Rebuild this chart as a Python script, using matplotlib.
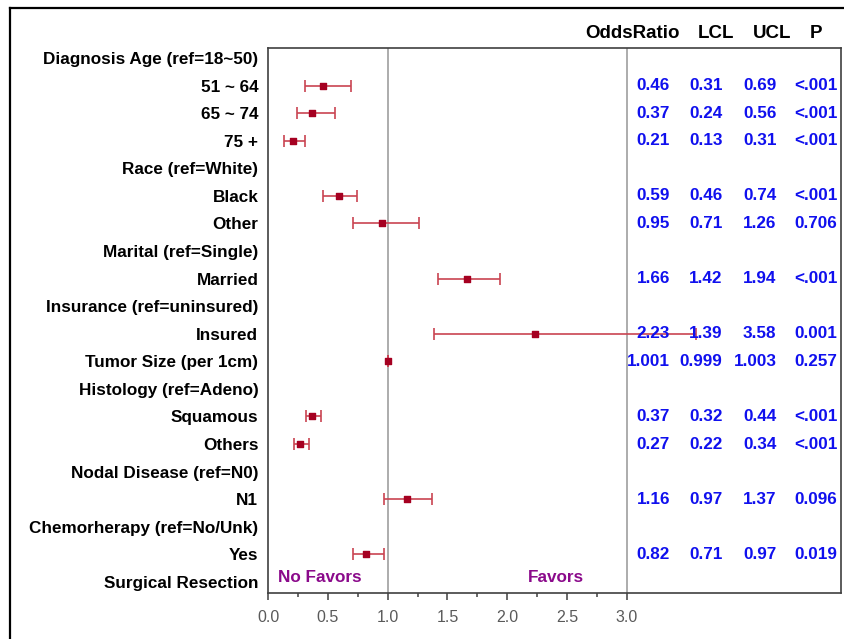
import matplotlib.pyplot as plt
import matplotlib.transforms as mtransforms
from matplotlib.lines import Line2D
import numpy as np

plt.rcParams['font.family'] = ['Liberation Sans', 'DejaVu Sans']

# rows of the forest plot, top to bottom ("" = group header, no estimate)
row_labels = [
    "Diagnosis Age (ref=18~50)", "51 ~ 64", "65 ~ 74", "75 +",
    "Race (ref=White)", "Black", "Other",
    "Marital (ref=Single)", "Married",
    "Insurance (ref=uninsured)", "Insured",
    "Tumor Size (per 1cm)",
    "Histology (ref=Adeno)", "Squamous", "Others",
    "Nodal Disease (ref=N0)", "N1",
    "Chemorherapy (ref=No/Unk)", "Yes",
    "Surgical Resection",
]
odds_txt = ["", "0.46", "0.37", "0.21", "", "0.59", "0.95", "", "1.66", "", "2.23",
            "1.001", "", "0.37", "0.27", "", "1.16", "", "0.82", ""]
lcl_txt = ["", "0.31", "0.24", "0.13", "", "0.46", "0.71", "", "1.42", "", "1.39",
           "0.999", "", "0.32", "0.22", "", "0.97", "", "0.71", ""]
ucl_txt = ["", "0.69", "0.56", "0.31", "", "0.74", "1.26", "", "1.94", "", "3.58",
           "1.003", "", "0.44", "0.34", "", "1.37", "", "0.97", ""]
p_txt = ["", "<.001", "<.001", "<.001", "", "<.001", "0.706", "", "<.001", "", "0.001",
         "0.257", "", "<.001", "<.001", "", "0.096", "", "0.019", ""]

headers = ["OddsRatio", "LCL", "UCL", "P"]
x_ticks = [0.0, 0.5, 1.0, 1.5, 2.0, 2.5, 3.0]


def to_num(vals):
    return np.array([float(v) if v else np.nan for v in vals])


odds = to_num(odds_txt)
lcl = to_num(lcl_txt)
ucl = to_num(ucl_txt)
ypos = np.arange(len(row_labels))
has = ~np.isnan(odds)

fig = plt.figure(figsize=(8.44, 6.39), dpi=100)
ax = fig.add_axes([268 / 844, 1 - 593 / 639, (841 - 268) / 844, (593 - 48) / 639])

# outer frame (only left and top edges visible in the crop)
fig.add_artist(Line2D([10 / 844, 10 / 844], [0, 1 - 8 / 639], transform=fig.transFigure,
                      color="black", lw=1.6))
fig.add_artist(Line2D([10 / 844, 1], [1 - 8 / 639, 1 - 8 / 639], transform=fig.transFigure,
                      color="black", lw=1.6))

ax.set_xlim(0, 4.79)
ax.set_ylim(19.4, -0.36)

ax.axvline(1.0, color="#a6a6a6", lw=1.3, zorder=1)
ax.axvline(3.0, color="#a6a6a6", lw=1.3, zorder=1)

ax.errorbar(odds[has], ypos[has], xerr=[odds[has] - lcl[has], ucl[has] - odds[has]],
            fmt="none", ecolor="#c94452", elinewidth=1.2, capsize=4.5, capthick=1.2, zorder=2)
ax.scatter(odds[has], ypos[has], marker="s", s=24, color="#a50021", zorder=3)

# row labels
ax.set_yticks(ypos)
ax.set_yticklabels(row_labels, fontsize=12.3, fontweight="bold")
ax.tick_params(axis="y", length=0, pad=7)

# x axis
ax.set_xticks(x_ticks)
ax.set_xticklabels([f"{t:.1f}" for t in x_ticks], fontsize=11.5, color="#5a5a5a")
ax.set_xticks(np.arange(0.25, 3.0, 0.5), minor=True)
ax.tick_params(axis="x", which="major", length=5, width=1.1, color="#404040", pad=7)
ax.tick_params(axis="x", which="minor", length=2.8, width=1.1, color="#404040")
for s in ax.spines.values():
    s.set_color("#404040")
    s.set_linewidth(1.2)

# table columns on the right
col_right = [3.36, 3.80, 4.25, 4.76]
for col, vals in zip(col_right, [odds_txt, lcl_txt, ucl_txt, p_txt]):
    for y, v in zip(ypos, vals):
        if v:
            ax.text(col, y, v, ha="right", va="center", fontsize=12.3,
                    fontweight="bold", color="#1010ee", zorder=4)

trans = mtransforms.blended_transform_factory(ax.transData, ax.transAxes)
header_x = [3.046, 3.749, 4.218, 4.577]
for hx, h in zip(header_x, headers):
    ax.text(hx, 1.0275, h, transform=trans, ha="center", va="center",
            fontsize=13.5, fontweight="bold", color="black", clip_on=False)

ax.text(0.084, 18.85, "No Favors", ha="left", va="center", fontsize=12.3,
        fontweight="bold", color="#8b0a8b")
ax.text(2.405, 18.85, "Favors", ha="center", va="center", fontsize=12.3,
        fontweight="bold", color="#8b0a8b")

fig.savefig("out.png", dpi=100)
